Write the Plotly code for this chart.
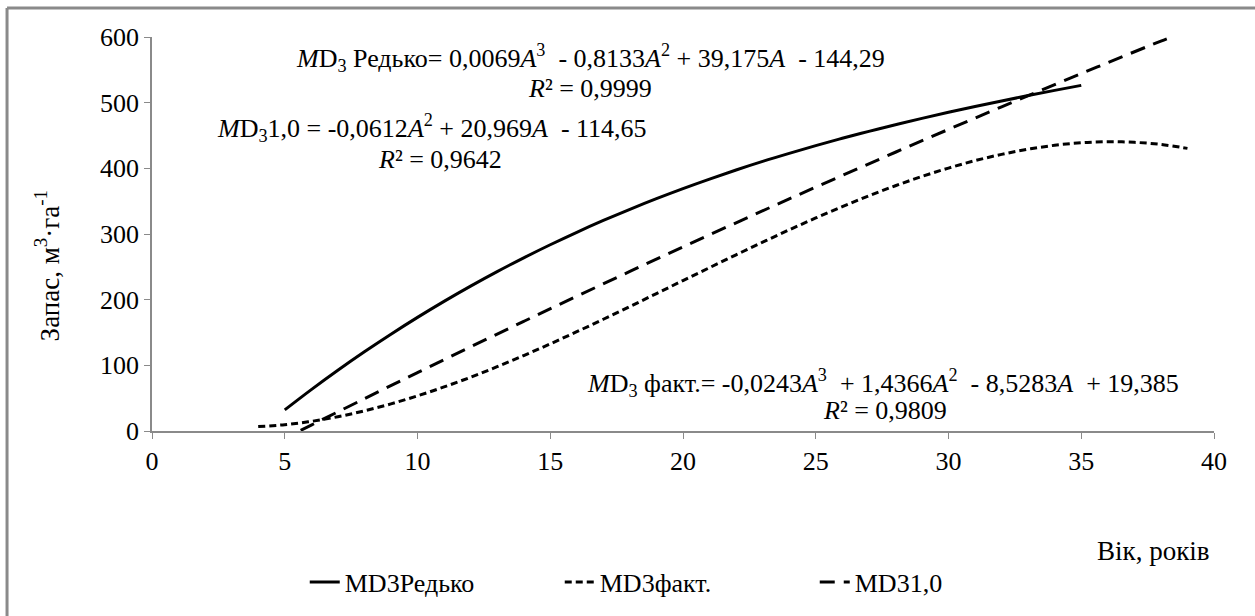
import plotly.graph_objects as go

# ---- data ----
age_redko = [5, 6, 7, 8, 9, 10, 11, 12, 13, 14, 15, 16, 17, 18, 19, 20,
             21, 22, 23, 24, 25, 26, 27, 28, 29, 30, 31, 32, 33, 34, 35]
md3_redko = [32.1, 63.0, 92.5, 120.6, 147.4, 173.0, 197.4, 220.6, 242.7, 263.7,
             283.6, 302.6, 320.6, 337.6, 353.8, 369.1, 383.6, 397.4, 410.5, 422.8,
             434.6, 445.7, 456.3, 466.5, 476.1, 485.3, 494.1, 502.6, 510.8, 518.7, 526.3]

age_fact = [4, 5, 6, 7, 8, 9, 10, 11, 12, 13, 14, 15, 16, 17, 18, 19, 20,
            21, 22, 23, 24, 25, 26, 27, 28, 29, 30, 31, 32, 33, 34, 35, 36, 37, 38, 39]
md3_fact = [6.7, 9.6, 14.7, 21.7, 30.7, 41.3, 53.5, 67.1, 81.9, 97.9, 114.9, 132.7,
            151.2, 170.2, 189.6, 209.3, 229.1, 248.8, 268.3, 287.5, 306.3, 324.4,
            341.7, 358.1, 373.5, 387.6, 400.4, 411.7, 421.3, 429.1, 435.1, 438.9,
            440.5, 439.6, 436.4, 430.4]

age_10 = [5.6, 6, 8, 10, 12, 14, 16, 18, 20, 22, 24, 26, 28, 30, 32, 34, 36, 38, 38.4]
md3_10 = [0.9, 9.0, 49.2, 88.9, 128.2, 166.9, 205.2, 243.0, 280.3, 317.1, 353.4,
          389.2, 424.5, 459.3, 493.7, 527.6, 560.9, 593.8, 600.0]

series_names = ["MD3Редько", "MD3факт.", "MD31,0"]
x_ticks = [0, 5, 10, 15, 20, 25, 30, 35, 40]
y_ticks = [0, 100, 200, 300, 400, 500, 600]

FONT = "Liberation Serif"
NB = "\u00a0"

fig = go.Figure()
fig.add_trace(go.Scatter(x=age_redko, y=md3_redko, mode="lines", name=series_names[0],
                         line=dict(color="black", width=3, shape="spline")))
fig.add_trace(go.Scatter(x=age_fact, y=md3_fact, mode="lines", name=series_names[1],
                         line=dict(color="black", width=3, shape="spline", dash="7px,4px")))
fig.add_trace(go.Scatter(x=age_10, y=md3_10, mode="lines", name=series_names[2],
                         line=dict(color="black", width=3, shape="spline", dash="15px,9px")))

ann_font = dict(family=FONT, size=26, color="black")
eq_redko = ("<i>M</i>D<sub>3</sub> Редько= 0,0069<i>A</i><sup>3</sup>" + NB + NB +
            "- 0,8133<i>A</i><sup>2</sup> + 39,175<i>A</i>" + NB + NB + "- 144,29")
eq_10 = ("<i>M</i>D<sub>3</sub>1,0 = -0,0612<i>A</i><sup>2</sup> + 20,969<i>A</i>" + NB + NB +
         "- 114,65")
eq_fact = ("<i>M</i>D<sub>3</sub> факт.= -0,0243<i>A</i><sup>3</sup>" + NB + NB +
           "+ 1,4366<i>A</i><sup>2</sup>" + NB + NB + "- 8,5283<i>A</i>" + NB + NB +
           "+ 19,385")

annotations = [
    dict(x=16.5, y=568, xref="x", yref="y", showarrow=False, font=ann_font, text=eq_redko),
    dict(x=16.5, y=522, xref="x", yref="y", showarrow=False, font=ann_font,
         text="<i>R</i>² = 0,9999"),
    dict(x=10.55, y=461, xref="x", yref="y", showarrow=False, font=ann_font, text=eq_10),
    dict(x=10.85, y=414, xref="x", yref="y", showarrow=False, font=ann_font,
         text="<i>R</i>² = 0,9642"),
    dict(x=27.55, y=73, xref="x", yref="y", showarrow=False, font=ann_font, text=eq_fact),
    dict(x=27.6, y=31, xref="x", yref="y", showarrow=False, font=ann_font,
         text="<i>R</i>² = 0,9809"),
    # axis titles
    dict(x=0.998, y=-0.304, xref="paper", yref="paper", showarrow=False,
         xanchor="right", yanchor="middle",
         font=dict(family=FONT, size=27, color="black"), text="Вік, років"),
    dict(x=-0.099, y=0.42, xref="paper", yref="paper", showarrow=False,
         textangle=-90, xanchor="center", yanchor="middle",
         font=dict(family=FONT, size=27, color="black"),
         text="Запас, м<sup>3</sup>·га<sup>-1</sup>"),
]

# outer frame (top and left edges visible)
shapes = [
    dict(type="line", xref="paper", yref="paper", x0=-0.1365, x1=1.05, y0=1.0734, y1=1.0734,
         line=dict(color="#8a8a8a", width=3)),
    dict(type="line", xref="paper", yref="paper", x0=-0.1365, x1=-0.1365, y0=-0.5, y1=1.0734,
         line=dict(color="#8a8a8a", width=3)),
]

fig.update_layout(
    width=1255, height=616,
    margin=dict(l=152, r=41, t=37, b=184),
    paper_bgcolor="white", plot_bgcolor="white",
    font=dict(family=FONT, color="black"),
    showlegend=True,
    legend=dict(orientation="h", x=0.504, y=-0.38, xanchor="center", yanchor="middle",
                font=dict(family=FONT, size=26, color="black"),
                entrywidth=210, entrywidthmode="pixels"),
    annotations=annotations,
    shapes=shapes,
    xaxis=dict(range=[0, 40], tickvals=x_ticks, ticktext=[str(v) for v in x_ticks],
               showgrid=False, zeroline=False, showline=True, linecolor="#8a8a8a",
               linewidth=1.5, ticks="outside", ticklen=6, tickcolor="#8a8a8a",
               tickfont=dict(family=FONT, size=26, color="black")),
    yaxis=dict(range=[0, 600], tickvals=y_ticks, ticktext=[str(v) for v in y_ticks],
               showgrid=False, zeroline=False, showline=True, linecolor="#8a8a8a",
               linewidth=1.5, ticks="outside", ticklen=6, tickcolor="#8a8a8a",
               tickfont=dict(family=FONT, size=26, color="black")),
)

fig.write_html("out.html")
